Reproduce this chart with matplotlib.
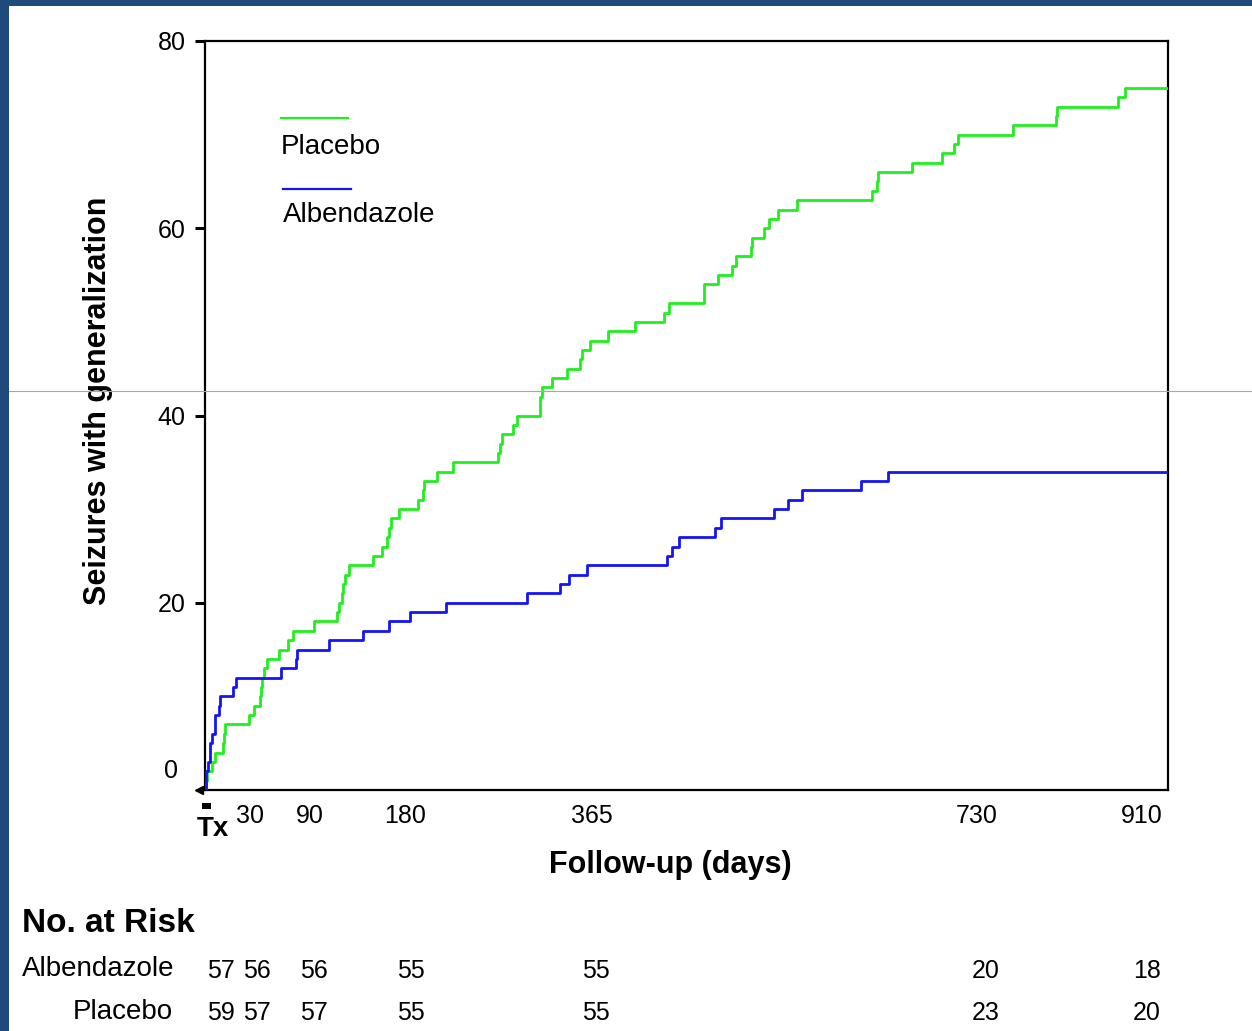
import matplotlib
matplotlib.use('Agg')

import matplotlib.pyplot as plt
from matplotlib.patches import Rectangle
from matplotlib.lines import Line2D
import numpy as np

# --- datos (dias de seguimiento, eventos acumulados) ---
placebo_days = [0, 1, 2, 7, 9, 17, 18, 19, 42, 46, 52, 53, 54, 56, 59, 70, 78, 83,
                103, 125, 127, 129, 130, 132, 136, 159, 167, 172, 174, 176, 183,
                201, 206, 207, 219, 234, 277, 279, 281, 291, 295, 317, 317, 318,
                328, 342, 354, 356, 364, 381, 406, 434, 438, 472, 472, 485, 498,
                502, 516, 517, 528, 533, 541, 559, 630, 635, 636, 668, 696, 708,
                712, 764, 804, 805, 863, 869, 910]
placebo_counts = [0, 1, 2, 3, 4, 5, 6, 7, 8, 9, 10, 11, 12, 13, 14, 15, 16, 17,
                  18, 19, 20, 21, 22, 23, 24, 25, 26, 27, 28, 29, 30,
                  31, 32, 33, 34, 35, 36, 37, 38, 39, 40, 41, 42, 43,
                  44, 45, 46, 47, 48, 49, 50, 51, 52, 53, 54, 55, 56,
                  57, 58, 59, 60, 61, 62, 63, 64, 65, 66, 67, 68, 69,
                  70, 71, 72, 73, 74, 75, 75]

albend_days = [0, 1, 1, 3, 5, 5, 7, 9, 9, 13, 14, 26, 29, 72, 86, 87, 117, 149,
               174, 194, 228, 304, 335, 344, 361, 437, 441, 448, 482, 488, 538,
               551, 564, 620, 645, 910]
albend_counts = [0, 1, 2, 3, 4, 5, 6, 7, 8, 9, 10, 11, 12, 13, 14, 15, 16, 17,
                 18, 19, 20, 21, 22, 23, 24, 25, 26, 27, 28, 29, 30,
                 31, 32, 33, 34, 34]

xtick_labels = ['30', '90', '180', '365', '730', '910']
ytick_values = [20, 40, 60, 80]

risk_albend = ['57', '56', '56', '55', '55', '20', '18']
risk_placebo = ['59', '57', '57', '55', '55', '23', '20']

# --- layout en pixeles ---
W, H = 1252, 1031
def fx(x): return x / W
def fy(y): return 1 - y / H

GREEN = '#1ef01e'
BLUE = '#1414f5'
NAVY = '#1e4a7c'
SANS = ['Liberation Sans', 'DejaVu Sans']

fig = plt.figure(figsize=(W / 100, H / 100), dpi=100, facecolor='white')

# borde azul oscuro (izquierda y arriba)
fig.add_artist(Rectangle((0, 0), fx(9), 1, transform=fig.transFigure,
                         facecolor=NAVY, edgecolor='none', zorder=10))
fig.add_artist(Rectangle((0, fy(6)), 1, fy(0) - fy(6), transform=fig.transFigure,
                         facecolor=NAVY, edgecolor='none', zorder=10))

ax = fig.add_axes([fx(205), fy(790), fx(1168) - fx(205), fy(41) - fy(790)])

ax.plot(placebo_days, placebo_counts, drawstyle='steps-post', color=GREEN, lw=2.0, zorder=3)
ax.plot(albend_days, albend_counts, drawstyle='steps-post', color=BLUE, lw=2.0, zorder=3)

ax.set_xlim(0, 910)
ax.set_ylim(0, 80)
for s in ax.spines.values():
    s.set_linewidth(1.6)
    s.set_color('black')

ax.set_yticks(ytick_values)
ax.set_yticklabels([str(v) for v in ytick_values], fontsize=18, family=SANS)
ax.tick_params(axis='y', direction='out', length=7, width=2.2, pad=7)
# el "0" va un poco mas arriba en el original
ax.text(-0.028, 2.0, '0', transform=ax.get_yaxis_transform(), ha='right', va='center',
        fontsize=18, family=SANS)
ax.plot([-6], [0], marker='<', ms=6, color='black', clip_on=False, zorder=5)

# etiquetas del eje x (colocadas donde aparecen en la figura)
xtick_px = [250, 310, 405, 592, 977, 1142]
ax.set_xticks([])
for lab, xp in zip(xtick_labels, xtick_px):
    fig.text(fx(xp), fy(816), lab, ha='center', va='center', fontsize=18, family=SANS)
fig.text(fx(213), fy(829), 'Tx', ha='center', va='center', fontsize=20,
         fontweight='bold', family=SANS)
fig.add_artist(Rectangle((fx(202), fy(809)), fx(9), fy(803) - fy(809),
                         transform=fig.transFigure, facecolor='black', edgecolor='none'))

fig.text(fx(670), fy(865), 'Follow-up (days)', ha='center', va='center', fontsize=22,
         fontweight='bold', family=SANS)
fig.text(fx(98), fy(401), 'Seizures with generalization', ha='center', va='center',
         rotation=90, fontsize=22, fontweight='bold', family=SANS)

# leyenda manual
fig.add_artist(Line2D([fx(281), fx(348)], [fy(118), fy(118)], color=GREEN, lw=1.6))
fig.text(fx(281), fy(147), 'Placebo', ha='left', va='center', fontsize=20, family=SANS)
fig.add_artist(Line2D([fx(283), fx(351)], [fy(189), fy(189)], color=BLUE, lw=1.6))
fig.text(fx(283), fy(215), 'Albendazole', ha='left', va='center', fontsize=20, family=SANS)

# tabla de pacientes en riesgo
fig.text(fx(22), fy(924), 'No. at Risk', ha='left', va='center', fontsize=24,
         fontweight='bold', family=SANS)
fig.text(fx(22), fy(969), 'Albendazole', ha='left', va='center', fontsize=20, family=SANS)
fig.text(fx(173), fy(1012), 'Placebo', ha='right', va='center', fontsize=20, family=SANS)
risk_px = [221, 257, 314, 411, 596, 986, 1147]
for xp, a, p in zip(risk_px, risk_albend, risk_placebo):
    fig.text(fx(xp), fy(971), a, ha='center', va='center', fontsize=18, family=SANS)
    fig.text(fx(xp), fy(1013), p, ha='center', va='center', fontsize=18, family=SANS)

# linea gris horizontal del original
fig.add_artist(Line2D([fx(9), 1], [fy(391), fy(391)], color='#9ca6c0', lw=0.8, zorder=12))

fig.savefig('out.png', dpi=100, facecolor='white')
